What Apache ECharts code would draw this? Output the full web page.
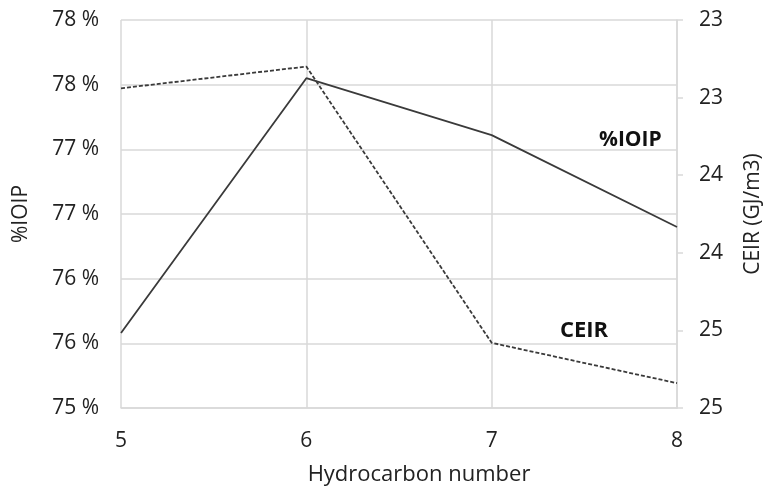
<!DOCTYPE html>
<html><head><meta charset="utf-8">
<script src="https://cdn.jsdelivr.net/npm/echarts@6/dist/echarts.min.js"></script>
<style>html,body{margin:0;padding:0;background:#fff}#c{width:766px;height:492px}</style>
</head><body><div id="c"></div>
<script>
const hydrocarbonNumbers = [5, 6, 7, 8];
const ioipValues = [75.58, 77.55, 77.11, 76.40];
const ceirValues = [22.94, 22.80, 24.58, 24.84];
const leftTicks = [75, 75.5, 76, 76.5, 77, 77.5, 78];
const rightTicks = [22.5, 23, 23.5, 24, 24.5, 25];

const FONT = 'Open Sans';
const TXT = '#222222';
const GRID = '#d9d9d9';
const FS = 21;
function roundHalfUp(v){ return Math.floor(v + 0.5 + 1e-9); }

const chart = echarts.init(document.getElementById('c'));
chart.setOption({
  animation: false,
  backgroundColor: '#fff',
  textStyle: {fontFamily: FONT},
  grid: {left: 121, right: 89, top: 20, bottom: 84, containLabel: false, outerBoundsMode: 'none'},
  xAxis: {
    type: 'value', min: hydrocarbonNumbers[0], max: hydrocarbonNumbers[hydrocarbonNumbers.length-1], interval: 1,
    name: 'Hydrocarbon number', nameLocation: 'middle', nameGap: 56,
    nameTextStyle: {fontFamily: FONT, fontSize: 22, color: TXT, padding: [0, 0, 0, 40]},
    axisLine: {show: true, lineStyle: {color: GRID, width: 1.5}},
    axisTick: {show: false},
    axisLabel: {fontFamily: FONT, fontSize: FS, color: TXT, margin: 23},
    splitLine: {show: true, lineStyle: {color: GRID, width: 1.5}}
  },
  yAxis: [{
    type: 'value', min: leftTicks[0], max: leftTicks[leftTicks.length-1], interval: 0.5,
    name: '%IOIP', nameLocation: 'middle', nameGap: 89, nameRotate: 90,
    nameTextStyle: {fontFamily: FONT, fontSize: FS, color: TXT},
    axisLine: {show: false}, axisTick: {show: false},
    axisLabel: {fontFamily: FONT, fontSize: FS, color: TXT, margin: 22,
      formatter: v => roundHalfUp(v) + ' %'},
    splitLine: {show: true, lineStyle: {color: GRID, width: 1.5}}
  }, {
    type: 'value', inverse: true, min: rightTicks[0], max: rightTicks[rightTicks.length-1], interval: 0.5,
    position: 'right',
    name: 'CEIR (GJ/m3)', nameLocation: 'middle', nameGap: 66, nameRotate: 90,
    nameTextStyle: {fontFamily: FONT, fontSize: FS, color: TXT},
    axisLine: {show: true, lineStyle: {color: GRID, width: 1.5}},
    axisTick: {show: true, length: 6, lineStyle: {color: GRID, width: 1.5}},
    axisLabel: {fontFamily: FONT, fontSize: FS, color: TXT, margin: 22,
      formatter: v => String(roundHalfUp(v))},
    splitLine: {show: false}
  }],
  series: [{
    name: '%IOIP', type: 'line', yAxisIndex: 0,
    data: hydrocarbonNumbers.map((x, i) => [x, ioipValues[i]]),
    symbol: 'none', lineStyle: {color: '#3a3a3a', width: 1.8, type: 'solid'}
  }, {
    name: 'CEIR', type: 'line', yAxisIndex: 1,
    data: hydrocarbonNumbers.map((x, i) => [x, ceirValues[i]]),
    symbol: 'none', lineStyle: {color: '#3a3a3a', width: 1.8, type: [4, 2]}
  }],
  graphic: [
    {type: 'text', left: 599, top: 130, style: {text: '%IOIP', font: 'bold 21px "Open Sans"', fill: '#111'}},
    {type: 'text', left: 560, top: 320, style: {text: 'CEIR', font: 'bold 22px "Open Sans"', fill: '#111'}}
  ]
});
</script></body></html>
